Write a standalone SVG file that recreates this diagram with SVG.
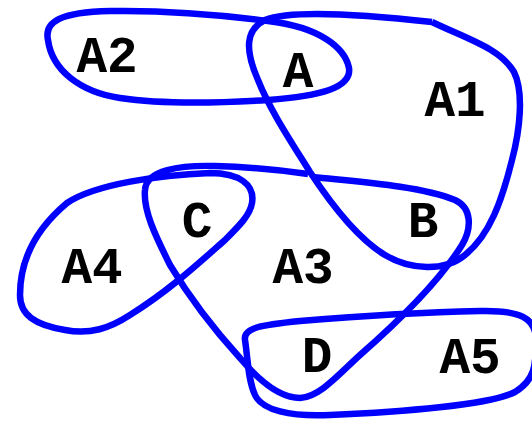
<svg xmlns="http://www.w3.org/2000/svg" width="532" height="424" viewBox="0 0 532 424">
<style>
.edge{fill:none;stroke:#0000ff;stroke-width:6.5;stroke-linejoin:round}
.lbl{font-family:"Liberation Mono","Courier New",monospace;font-weight:bold;font-size:51px;fill:#000;text-anchor:middle}
</style>
<rect width="532" height="424" fill="#fff"/>
<g id="hyperedges">
<path id="e-A2" class="edge" d="M 48,40 C 44,22 60,12 110,11 C 170,10 230,16 268,21 C 320,27 345,48 349,68 C 352,88 320,96 268,100 C 220,103 160,104 120,98 C 80,92 52,70 48,40 Z"/>
<path id="e-A1" class="edge" d="M 432,22 C 465,38 500,48 514,72 C 524,92 520,130 512,160 C 502,200 490,235 465,255 C 445,272 410,270 385,255 C 360,240 335,210 310,172 C 290,140 270,110 258,80 C 245,50 245,30 265,20 C 290,10 360,14 432,22"/>
<path id="e-A3" class="edge" d="M 313,177 C 360,182 420,186 455,200 C 472,208 472,228 462,245 C 440,280 400,320 360,355 C 340,373 320,397 300,398 C 280,398 260,382 240,358 C 210,325 185,290 170,265 C 155,235 143,210 145,190 C 146,170 180,165 215,166 C 250,167 280,170 308,174"/>
<path id="e-A4" class="edge" d="M 67,203 C 95,184 160,175 210,173 C 240,173 255,185 252,203 C 250,215 240,225 225,240 C 200,262 170,290 130,315 C 110,328 90,335 65,330 C 35,325 20,315 20,295 C 20,268 30,234 67,203 Z"/>
<path id="e-A5" class="edge" d="M 245,340 C 243,328 260,325 300,321 C 360,316 430,312 480,311 C 520,310 536,318 536,340 C 536,365 535,380 515,392 C 490,405 400,412 330,415 C 290,417 262,410 255,395 C 248,380 248,360 245,340 Z"/>
</g>
<g id="node-A2"><text class="lbl" x="107" y="72">A2</text></g>
<g id="node-A"><text class="lbl" x="298" y="87">A</text></g>
<g id="node-A1"><text class="lbl" x="455" y="116">A1</text></g>
<g id="node-C"><text class="lbl" x="197" y="237">C</text></g>
<g id="node-B"><text class="lbl" x="423" y="237">B</text></g>
<g id="node-A4"><text class="lbl" x="92" y="283">A4</text></g>
<g id="node-A3"><text class="lbl" x="303" y="283">A3</text></g>
<g id="node-D"><text class="lbl" x="317" y="372">D</text></g>
<g id="node-A5"><text class="lbl" x="470" y="373">A5</text></g>
</svg>
